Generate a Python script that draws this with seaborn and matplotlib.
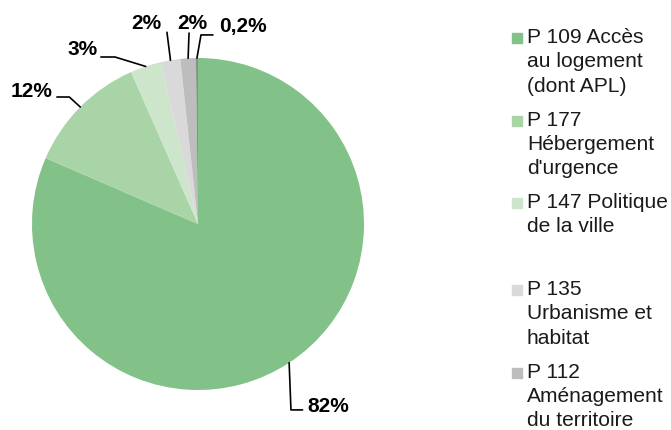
import matplotlib
matplotlib.use("Agg")
import matplotlib.pyplot as plt
import matplotlib.patches as mpatches
import numpy as np
import seaborn as sns

# data
categories = [
    "P 109 Accès\nau logement\n(dont APL)",
    "P 177\nHébergement\nd'urgence",
    "P 147 Politique\nde la ville",
    "P 135\nUrbanisme et\nhabitat",
    "P 112\nAménagement\ndu territoire",
    "",
]
parts = [81.5, 11.9, 3.0, 1.9, 1.5, 0.2]
colors = ["#82C187", "#A9D4A8", "#CDE6CB", "#D9D9D9", "#BDBDBD", "#8C8C8C"]

sns.set_theme(style="white")
plt.rcParams["font.family"] = ["Liberation Sans", "DejaVu Sans"]

W, H = 671, 430
fig = plt.figure(figsize=(W / 100, H / 100), dpi=100)
cx, cy, r = 198, 224, 166
ax = fig.add_axes([(cx - r) / W, (H - cy - r) / H, 2 * r / W, 2 * r / H])

wedges, _ = ax.pie(parts, colors=sns.color_palette(colors), startangle=90,
                   counterclock=False, wedgeprops=dict(linewidth=0))
ax.set_xlim(-1, 1)
ax.set_ylim(-1, 1)
ax.set_aspect("equal")
ax.axis("off")

# label layout (text pos, ha, leader path after the wedge anchor)
lab_pos = [
    ((0.66, -1.10), "left", [(0.56, -1.12), (0.63, -1.12)]),
    ((-0.875, 0.80), "right", [(-0.775, 0.765), (-0.85, 0.765)]),
    ((-0.605, 1.05), "right", [(-0.50, 1.006), (-0.585, 1.006)]),
    ((-0.313, 1.205), "center", [(-0.187, 1.155)]),
    ((-0.033, 1.205), "center", [(-0.054, 1.15)]),
    ((0.13, 1.19), "left", [(0.018, 1.139), (0.09, 1.139)]),
]


def fmt_pct(v):
    if v < 1:
        return f"{v:.1f}%".replace(".", ",")
    return f"{v:.0f}%"


for w, v, (pos, ha, path) in zip(wedges, parts, lab_pos):
    mid = np.deg2rad((w.theta1 + w.theta2) / 2)
    pts = [(np.cos(mid), np.sin(mid))] + path
    xs, ys = zip(*pts)
    ax.plot(xs, ys, color="black", lw=1.2, clip_on=False)
    ax.text(pos[0], pos[1], fmt_pct(v), ha=ha, va="center", fontsize=15,
            fontweight="bold", color="black")

# legend drawn by hand so the square sits on the first line
leg_y = [38, 121, 203, 290, 373]
for lab, col, y in zip(categories, colors, leg_y):
    if not lab:
        continue
    fig.patches.append(mpatches.Rectangle((512 / W, 1 - (y + 5) / H), 10 / W, 10 / H,
                                          transform=fig.transFigure, color=col))
    fig.text(527 / W, 1 - (y - 10) / H, lab, ha="left", va="top", fontsize=15.1,
             linespacing=1.35, color="#1a1a1a")

fig.savefig("out.png", dpi=100)
